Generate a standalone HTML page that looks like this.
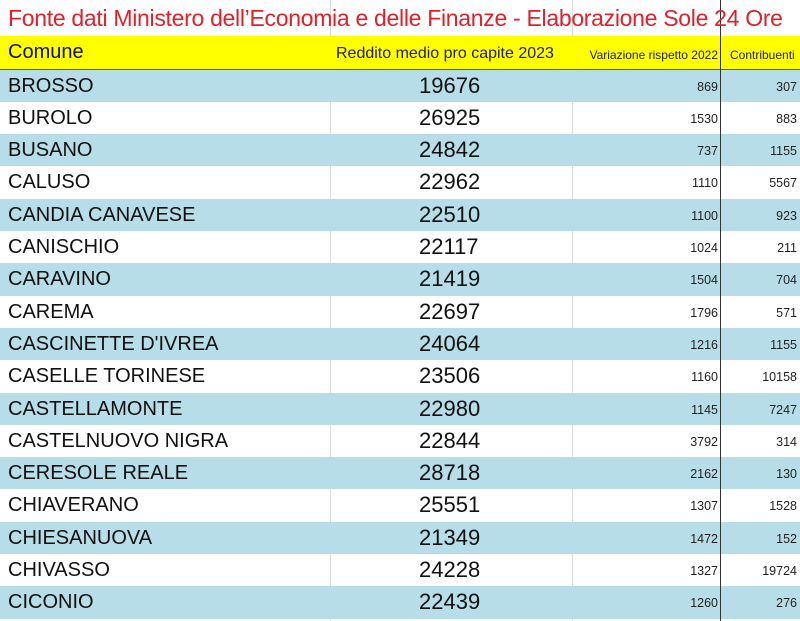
<!DOCTYPE html>
<html><head><meta charset="utf-8"><style>
body{margin:0;width:800px;height:621px;overflow:hidden;background:#fff;font-family:"Liberation Sans",sans-serif;position:relative}
.t{position:absolute;left:8px;top:5px;font-size:23px;color:#e0202a;white-space:nowrap;letter-spacing:-0.3px}
.h{position:absolute;left:0;top:36px;width:800px;height:33px;background:#ffff00;border-bottom:1px solid #555}
.r{position:absolute;left:0;width:800px;height:32.3px}
.b{background:#b7dde8}
.c{position:absolute;white-space:nowrap}
.vl{position:absolute;top:0;height:621px;width:1px;background:#ddd}
</style></head><body>
<div class="vl" style="left:330px"></div>
<div class="vl" style="left:572px"></div>
<div class="h">
<div class="c" style="left:8px;top:5px;font-size:20px;color:#111">Comune</div>
<div class="c" style="left:336px;top:9px;font-size:16px;color:#222">Reddito medio pro capite 2023</div>
<div class="c" style="right:82px;top:12px;font-size:12px;color:#222">Variazione rispetto 2022</div>
<div class="c" style="left:730px;top:12px;font-size:12px;color:#222">Contribuenti</div>
</div>
<div id="rows"></div>
<div style="position:absolute;left:720px;top:0;width:1px;height:621px;background:#333"></div>
<div class="t">Fonte dati Ministero dell’Economia e delle Finanze - Elaborazione Sole 24 Ore</div>
<script>
var d=[["BROSSO",19676,869,307],["BUROLO",26925,1530,883],["BUSANO",24842,737,1155],["CALUSO",22962,1110,5567],["CANDIA CANAVESE",22510,1100,923],["CANISCHIO",22117,1024,211],["CARAVINO",21419,1504,704],["CAREMA",22697,1796,571],["CASCINETTE D'IVREA",24064,1216,1155],["CASELLE TORINESE",23506,1160,10158],["CASTELLAMONTE",22980,1145,7247],["CASTELNUOVO NIGRA",22844,3792,314],["CERESOLE REALE",28718,2162,130],["CHIAVERANO",25551,1307,1528],["CHIESANUOVA",21349,1472,152],["CHIVASSO",24228,1327,19724],["CICONIO",22439,1260,276]];
var h="";
d.forEach(function(r,i){
h+='<div class="r'+(i%2==0?' b':'')+'" style="top:'+(69.5+i*32.3)+'px">'+
'<div class="c" style="left:8px;top:5px;font-size:20px;color:#111">'+r[0]+'</div>'+
'<div class="c" style="left:419px;top:3px;font-size:22px;color:#111">'+r[1]+'</div>'+
'<div class="c" style="right:82px;top:10px;font-size:12.5px;color:#222">'+r[2]+'</div>'+
'<div class="c" style="right:3px;top:10px;font-size:12.5px;color:#222">'+r[3]+'</div></div>';
});
document.getElementById("rows").innerHTML=h;
</script>
</body></html>
